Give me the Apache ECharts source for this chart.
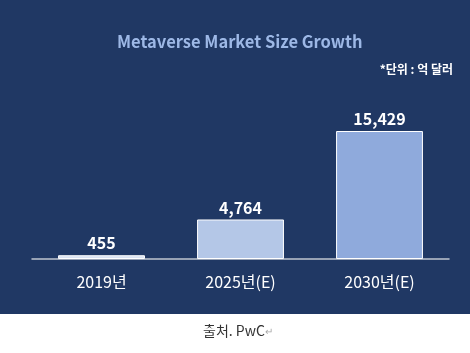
<!DOCTYPE html>
<html>
<head>
<meta charset="utf-8">
<script src="https://cdn.jsdelivr.net/npm/echarts@6/dist/echarts.min.js"></script>
<style>
  html, body { margin: 0; padding: 0; background: #fff; }
  #chart { width: 470px; height: 353px; }
</style>
</head>
<body>
<div id="chart"></div>
<script>
// 데이터
const categories = ["2019년", "2025년(E)", "2030년(E)"];
const marketSize = [455, 4764, 15429];
const barColors = ["#DAE3F3", "#B4C7E7", "#8FAADC"];

let myChart = echarts.init(document.getElementById("chart"));

let option = {
  backgroundColor: "#ffffff",
  animation: false,
  title: {
    text: "Metaverse Market Size Growth",
    left: 112,
    top: 28,
    textStyle: {
      fontFamily: "Noto Sans CJK KR",
      fontSize: 16.5,
      fontWeight: "bold",
      color: "#9DB8E6"
    }
  },
  graphic: [
    {
      type: "rect",
      z: -10,
      shape: { x: 0, y: 0, width: 470, height: 314 },
      style: { fill: "#203864" }
    },
    {
      type: "text",
      right: 17,
      top: 63,
      style: {
        text: "*단위 : 억 달러",
        fill: "#ffffff",
        font: "bold 12px 'Noto Sans CJK KR'"
      }
    },
    {
      type: "text",
      left: 203,
      top: 324,
      style: {
        text: "{a|출처. PwC}{b|↵}",
        rich: {
          a: { fill: "#333333", font: "14px 'Noto Sans CJK KR'" },
          b: { fill: "#AAAAAA", font: "10px 'Noto Sans CJK KR'" }
        }
      }
    }
  ],
  grid: {
    left: 32,
    right: 21,
    top: 131,
    bottom: 94
  },
  xAxis: {
    type: "category",
    data: categories,
    axisTick: { show: false },
    axisLine: {
      lineStyle: { color: "#BFC5CF", width: 1.5 }
    },
    axisLabel: {
      margin: 15,
      fontFamily: "Noto Sans CJK KR",
      fontSize: 16,
      color: "#ffffff"
    }
  },
  yAxis: {
    type: "value",
    min: 0,
    max: Math.max(...marketSize),
    show: false,
    splitLine: { show: false }
  },
  series: [
    {
      type: "bar",
      barWidth: "62.5%",
      data: marketSize.map((v, i) => ({
        value: v,
        itemStyle: { color: barColors[i] }
      })),
      itemStyle: {
        borderColor: "#ffffff",
        borderWidth: 1
      },
      label: {
        show: true,
        position: "top",
        distance: 4,
        fontFamily: "Noto Sans CJK KR",
        fontSize: 16,
        fontWeight: "bold",
        color: "#ffffff",
        formatter: p => p.value.toLocaleString("en-US")
      }
    }
  ]
};

myChart.setOption(option);
</script>
</body>
</html>
